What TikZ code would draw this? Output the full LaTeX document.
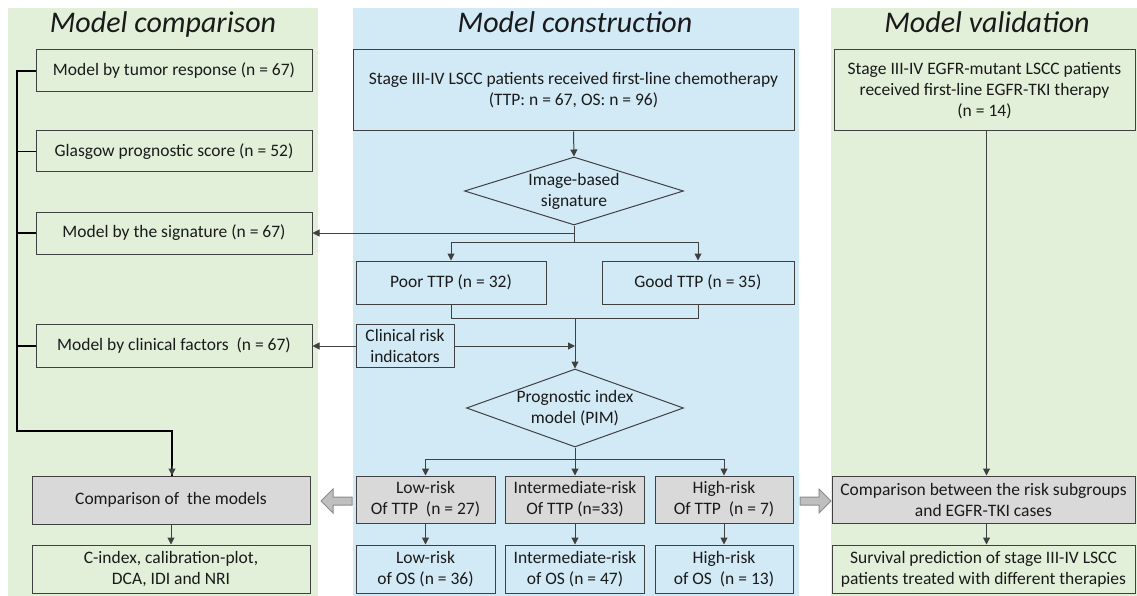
\documentclass[tikz,border=0pt]{standalone}
\usepackage{fontspec}
\setmainfont{Carlito}
\usetikzlibrary{arrows.meta,shapes.geometric,calc}
\definecolor{pgreen}{HTML}{E2F0D9}
\definecolor{pblue}{HTML}{D2EAF6}
\definecolor{bgray}{HTML}{D9D9D9}
\definecolor{edgec}{HTML}{404040}
\definecolor{txt}{HTML}{1A1A1A}
\definecolor{hafill}{HTML}{BFBFBF}
\definecolor{haedge}{HTML}{8C8C8C}
\begin{document}
\begin{tikzpicture}[x=1pt,y=-1pt,
  box/.style={draw=edgec,line width=1pt,rectangle,align=center,inner sep=0pt,
    font=\fontsize{17.5}{21}\selectfont,text=txt},
  gbox/.style={box,fill=pgreen},
  bbox/.style={box,fill=pblue},
  graybox/.style={box,fill=bgray},
  dia/.style={draw=edgec,line width=1pt,diamond,inner sep=0pt,fill=pblue},
  dialabel/.style={align=center,font=\fontsize{17.5}{21}\selectfont,text=txt,inner sep=0pt},
  title/.style={font=\fontsize{30}{32}\selectfont\itshape,text=txt,anchor=base},
  conn/.style={draw=edgec,line width=1pt},
  arr/.style={conn,-{Triangle[length=7pt,width=7pt]}},
  bracket/.style={draw=black,line width=1.5pt},
  hollow/.style={fill=hafill,draw=haedge,line width=1pt,line join=miter}
]
\useasboundingbox (0,0) rectangle (1137,596);
\fill[white] (0,0) rectangle (1137,596);
% panels
\fill[pgreen] (8,8) rectangle (318,596);
\fill[pblue] (353,8) rectangle (799,596);
\fill[pgreen] (831,8) rectangle (1137,596);
% titles
\node[title] (t1) at (163,33) {Model comparison};
\node[title] (t2) at (575,33) {Model construction};
\node[title] (t3) at (987,33) {Model validation};

% left column
\node[gbox,minimum width=276,minimum height=42] (tr) at (174,71) {Model by tumor response (n = 67)};
\node[gbox,minimum width=276,minimum height=41] (gps) at (174,151.5) {Glasgow prognostic score (n = 52)};
\node[gbox,minimum width=276,minimum height=42] (sig) at (174,233) {Model by the signature (n = 67)};
\node[gbox,minimum width=276,minimum height=43] (clin) at (174,346) {Model by clinical factors\ \ (n = 67)};
\node[graybox,minimum width=278,minimum height=48] (cmp) at (171,500) {Comparison of\ \ the models};
\node[gbox,minimum width=278,minimum height=48] (cidx) at (171,569) {C-index, calibration-plot,\\DCA, IDI and NRI};

% center column
\node[bbox,minimum width=441,minimum height=81] (top) at (573.5,90.5) {Stage III-IV LSCC patients received first-line chemotherapy\\(TTP: n = 67, OS: n = 96)};
\node[dia,minimum width=219,minimum height=68,
  label={[dialabel]center:Image-based\\signature}] (d1) at (574,191) {};
\node[bbox,minimum width=190,minimum height=43] (poor) at (451,282.5) {Poor TTP (n = 32)};
\node[bbox,minimum width=192,minimum height=43] (good) at (698,282.5) {Good TTP (n = 35)};
\node[bbox,minimum width=98,minimum height=43] (crisk) at (405,346) {Clinical risk\\indicators};
\node[dia,minimum width=217,minimum height=78,
  label={[dialabel]center:Prognostic index\\model (PIM)}] (d2) at (575,408) {};
\node[graybox,minimum width=139,minimum height=47] (lowT) at (425.5,499.5) {Low-risk\\Of TTP\ \ (n = 27)};
\node[graybox,minimum width=139,minimum height=47] (intT) at (575,499.5) {Intermediate-risk\\Of TTP (n=33)};
\node[graybox,minimum width=138,minimum height=47] (highT) at (724,499.5) {High-risk\\Of TTP\ \ (n = 7)};
\node[bbox,minimum width=139,minimum height=48] (lowO) at (425.5,569) {Low-risk\\of OS (n = 36)};
\node[bbox,minimum width=139,minimum height=48] (intO) at (575,569) {Intermediate-risk\\of OS (n = 47)};
\node[bbox,minimum width=138,minimum height=48] (highO) at (724,569) {High-risk\\of OS\ \ (n = 13)};

% right column
\node[gbox,minimum width=301,minimum height=81] (rtop) at (984.5,90.5) {Stage III-IV EGFR-mutant LSCC patients\\received first-line EGFR-TKI therapy\\(n = 14)};
\node[graybox,minimum width=303,minimum height=47] (rcmp) at (983.5,499.5) {Comparison between the risk subgroups\\and EGFR-TKI cases};
\node[gbox,minimum width=303,minimum height=48] (rsurv) at (983.5,569) {Survival prediction of stage III-IV LSCC\\patients treated with different therapies};

% left bracket
\coordinate (lb) at (17,431);
\draw[bracket] (tr.west) -- (tr.west -| lb) -- (lb) -| ([xshift=1pt]cmp.north);
\draw[bracket] (gps.west) -- (gps.west -| lb);
\draw[bracket] (sig.west) -- (sig.west -| lb);
\draw[bracket] (clin.west) -- (clin.west -| lb);
\draw[arr] ([xshift=1pt]cmp.north |- 0,466) -- ([xshift=1pt]cmp.north);
\draw[arr] (cmp.south) -- (cidx.north);

% center connectors
\draw[arr] (top.south) -- (d1.north);
\coordinate (j1) at (574,242);
\draw[conn] (d1.south) -- (j1);
\draw[arr] (d1.south |- sig.east) -- (sig.east);
\draw[arr] (j1) -| (poor.north);
\draw[arr] (j1) -| (good.north);
\coordinate (j2) at (575,318);
\draw[conn] (poor.south) -- (poor.south |- j2) -- (good.south |- j2) -- (good.south);
\draw[arr] (j2) -- (d2.north);
\draw[arr] (crisk.east) -- (d2.north |- crisk.east);
\draw[arr] (crisk.west) -- (clin.east);
\coordinate (j3) at (575,459);
\draw[conn] (d2.south) -- (j3);
\draw[arr] (j3) -| (lowT.north);
\draw[arr] (j3) -- (intT.north);
\draw[arr] (j3) -| (highT.north);
\draw[arr] (lowT.south) -- (lowO.north);
\draw[arr] (intT.south) -- (intO.north);
\draw[arr] (highT.south) -- (highO.north);

% right connectors
\draw[arr] ([xshift=2pt]rtop.south) -- ([xshift=3pt]rcmp.north);
\draw[arr] ([xshift=3pt]rcmp.south) -- ([xshift=3pt]rsurv.north);

% hollow arrows
\draw[hollow] (321,501) -- (333,489) -- (333,497) -- (352,497) -- (352,505) -- (333,505) -- (333,513) -- cycle;
\draw[hollow] (831,501) -- (819,489) -- (819,497) -- (800,497) -- (800,505) -- (819,505) -- (819,513) -- cycle;
\end{tikzpicture}
\end{document}
